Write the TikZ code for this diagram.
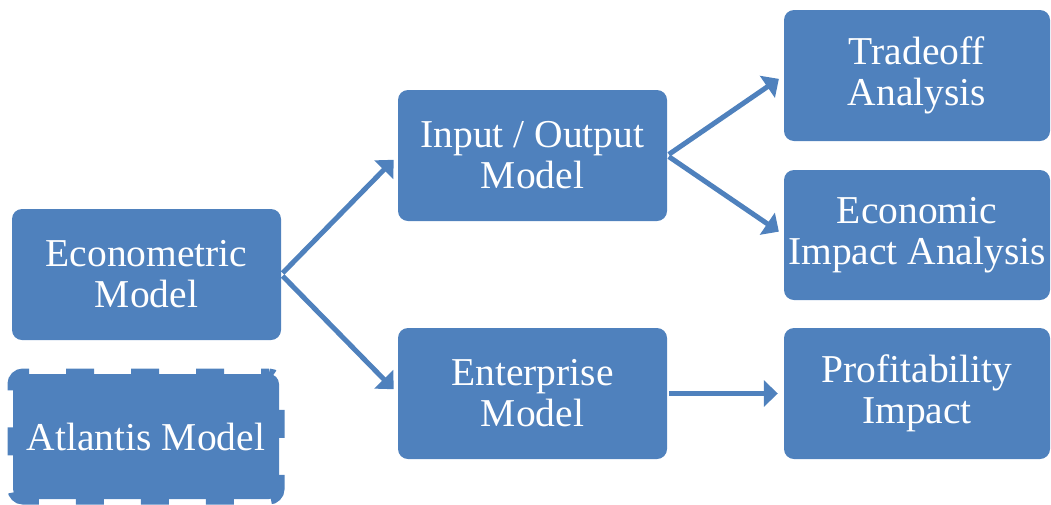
\documentclass[tikz,border=0pt]{standalone}
\usepackage{fontspec}
\setmainfont{Liberation Serif}
\usetikzlibrary{arrows.meta, positioning}
\definecolor{boxblue}{HTML}{4F81BD}

\begin{document}
\begin{tikzpicture}[x=1pt, y=-1pt,
  box/.style={rectangle, rounded corners=10pt, fill=boxblue, text=white,
    minimum width=269pt, minimum height=131pt, inner sep=0pt, align=center,
    font=\fontsize{39.5}{41}\selectfont},
  link/.style={draw=boxblue, line width=5pt, -{Triangle[length=14pt,width=26pt]},
    shorten <=2pt, shorten >=6pt}]
  \useasboundingbox (0,0) rectangle (1051,504);

  % left column
  \node[box] (econ) at (146.5,274.5) {Econometric\\Model};
  \node[box, draw=boxblue, line width=11pt, dash pattern=on 28pt off 37pt,
    dash phase=20pt, minimum width=266pt, minimum height=125pt] (atl) at (146,436.5) {Atlantis Model};

  % middle column
  \node[box] (io) at (532.5,155.5) {Input / Output\\Model};
  \node[box] (ent) at (532.5,393.5) {Enterprise\\Model};

  % right column
  \node[box, minimum width=266pt] (trade) at (917,75.5) {Tradeoff\\Analysis};
  \node[box, minimum width=266pt, minimum height=130pt] (impact) at (917,235) {Economic\\Impact Analysis};
  \node[box, minimum width=266pt] (profit) at (917,393.5) {Profitability\\Impact};

  \draw[link] (econ.east) -- (io.west);
  \draw[link] (econ.east) -- (ent.west);
  \draw[link] (io.east) -- (trade.west);
  \draw[link] (io.east) -- (impact.west);
  \draw[link] (ent.east) -- (profit.west);
\end{tikzpicture}
\end{document}
